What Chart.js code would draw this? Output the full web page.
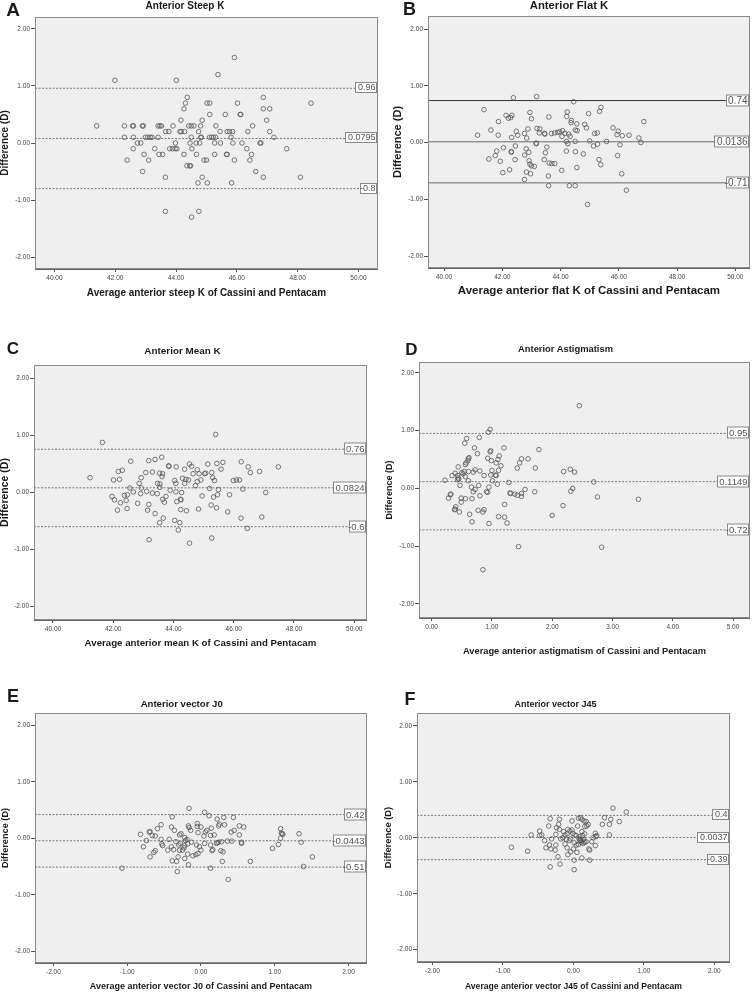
<!DOCTYPE html>
<html>
<head>
<meta charset="utf-8">
<title>Cassini vs Pentacam - Bland-Altman</title>
<script src="https://cdn.jsdelivr.net/npm/chart.js@4.4.1/dist/chart.umd.min.js"></script>
<style>
  html, body { margin: 0; padding: 0; background: #fff; }
  body { position: relative; width: 753px; height: 992px; overflow: hidden; font-family: "Liberation Sans", Arial, sans-serif; }
  canvas { position: absolute; }
  .txt { position: absolute; transform: translate(-50%, -50%); font-weight: bold; white-space: nowrap; line-height: 1; color: #1a1a1a; }
</style>
</head>
<body>
<script>
const FONT = '"Liberation Sans", Arial, sans-serif';
Chart.defaults.font.family = FONT;

// tick labels
const diffTicks = [-2, -1, 0, 1, 2];
const kTicks = [40, 42, 44, 46, 48, 50];
const astigTicks = [0, 1, 2, 3, 4, 5];
const vectorTicks = [-2, -1, 0, 1, 2];

// A - anterior steep K
const steepAvg = [45.92,45.38,41.99,44.01,44.37,46.87,44.31,45.02,45.11,46.02,48.44,44.26,46.87,47.08,45.11,45.62,46.11,46.13,44.16,44.86,46.98,
  41.39,42.30,42.57,42.60,42.89,42.92,43.41,43.47,43.52,43.90,44.42,44.50,44.59,44.81,45.31,46.52,
  43.66,43.76,44.13,44.17,44.28,44.74,45.45,45.68,45.76,45.86,46.36,47.08,
  42.30,42.60,42.99,43.07,43.15,43.21,43.41,44.50,44.81,44.83,45.10,45.17,45.23,45.30,45.81,47.22,
  42.73,42.84,43.98,44.46,44.66,44.78,45.27,45.46,45.87,46.17,46.76,46.79,
  42.59,43.30,43.79,43.88,43.97,44.03,44.52,46.33,47.64,
  42.95,43.44,43.56,44.26,44.67,45.27,45.66,45.68,46.48,
  42.39,43.10,44.92,45.00,45.92,46.43,
  44.36,44.45,44.48,
  42.90,46.62,
  43.65,44.86,46.87,48.09,
  44.72,45.03,45.83,
  43.65,44.75,
  44.51];
const steepDiff = [1.5,1.2,1.1,1.1,0.8,0.8,0.7,0.7,0.7,0.7,0.7,0.6,0.6,0.6,0.5,0.5,0.5,0.5,0.4,0.4,0.4,
  0.3,0.3,0.3,0.3,0.3,0.3,0.3,0.3,0.3,0.3,0.3,0.3,0.3,0.3,0.3,0.3,
  0.2,0.2,0.2,0.2,0.2,0.2,0.2,0.2,0.2,0.2,0.2,0.2,
  0.1,0.1,0.1,0.1,0.1,0.1,0.1,0.1,0.1,0.1,0.1,0.1,0.1,0.1,0.1,0.1,
  0,0,0,0,0,0,0,0,0,0,0,0,
  -0.1,-0.1,-0.1,-0.1,-0.1,-0.1,-0.1,-0.1,-0.1,
  -0.2,-0.2,-0.2,-0.2,-0.2,-0.2,-0.2,-0.2,-0.2,
  -0.3,-0.3,-0.3,-0.3,-0.3,-0.3,
  -0.4,-0.4,-0.4,
  -0.5,-0.5,
  -0.6,-0.6,-0.6,-0.6,
  -0.7,-0.7,-0.7,
  -1.2,-1.2,
  -1.3];
const steepLimits = [0.96, 0.0795, -0.8];
const steepLimitText = ['0.96', '0.0795', '-0.8'];

// B - anterior flat K
const flatAvg = [42.38,43.18,44.45,41.37,45.39,45.34,44.23,42.95,44.96,42.13,
  42.33,42.21,42.29,43.60,44.21,43.00,41.87,44.37,46.86,44.36,
  44.56,44.83,44.89,45.80,43.19,43.29,42.88,41.61,42.48,44.51,
  44.57,45.98,43.69,43.80,43.90,43.97,44.07,44.15,44.28,43.27,
  43.45,43.46,42.76,45.26,45.17,41.15,41.86,42.53,45.94,46.12,
  46.35,44.33,44.05,42.32,42.84,46.69,44.20,44.50,45.00,45.58,
  46.76,43.16,43.17,44.25,45.27,46.04,42.45,45.13,43.53,42.04,
  42.82,44.20,41.81,42.31,42.31,42.91,43.48,44.51,44.78,41.76,
  45.96,42.77,41.54,41.93,42.44,43.44,45.32,42.92,42.95,43.00,
  43.10,43.61,43.70,43.80,45.38,44.56,42.25,44.04,42.83,42.02,
  42.97,46.10,43.58,42.76,43.59,44.30,44.50,46.26,44.93];
const flatDiff = [0.79,0.81,0.72,0.58,0.62,0.55,0.54,0.53,0.51,0.48,
  0.48,0.43,0.44,0.45,0.46,0.42,0.37,0.39,0.37,0.35,
  0.33,0.32,0.26,0.26,0.25,0.24,0.24,0.22,0.20,0.22,
  0.21,0.20,0.16,0.17,0.18,0.19,0.21,0.16,0.15,0.17,
  0.16,0.15,0.16,0.17,0.16,0.13,0.13,0.13,0.14,0.12,
  0.13,0.11,0.11,0.09,0.08,0.08,0.02,0.02,0.03,0.02,
  0.00,-0.01,-0.02,-0.02,-0.03,-0.04,-0.06,-0.06,-0.08,-0.09,
  -0.11,-0.15,-0.15,-0.16,-0.17,-0.17,-0.18,-0.16,-0.20,-0.23,
  -0.23,-0.22,-0.29,-0.33,-0.30,-0.30,-0.30,-0.32,-0.38,-0.41,
  -0.42,-0.36,-0.37,-0.37,-0.39,-0.44,-0.48,-0.49,-0.52,-0.53,
  -0.55,-0.55,-0.59,-0.65,-0.76,-0.76,-0.76,-0.84,-1.09];
const flatLimits = [0.74, 0.0136, -0.71];
const flatLimitText = ['0.74', '0.0136', '-0.71'];

// C - anterior mean K
const meanAvg = [45.40,41.64,41.23,43.61,43.39,43.18,42.58,46.25,45.64,45.14,
  45.44,44.53,44.60,43.84,43.85,47.48,46.48,44.09,44.37,45.58,
  44.79,42.17,42.30,46.86,46.55,43.30,43.08,45.27,43.54,43.64,
  44.65,45.03,45.07,44.85,43.62,42.93,45.30,44.30,44.41,44.04,
  44.91,45.36,42.21,42.01,44.50,45.99,46.09,46.19,44.79,44.08,
  44.37,43.47,43.55,42.86,42.55,42.93,43.55,44.73,45.20,45.49,
  46.30,43.89,42.67,43.11,43.30,44.08,44.27,47.06,42.91,42.47,
  42.37,45.46,41.96,43.46,44.95,45.86,45.33,43.75,42.04,42.43,
  43.64,44.23,44.25,44.11,42.81,43.70,43.18,42.24,45.25,42.46,
  45.43,44.83,42.14,43.14,44.24,44.43,45.80,43.39,43.66,46.24,
  46.93,44.04,43.54,44.21,44.16,46.45,43.19,45.27,44.53];
const meanDiff = [1.02,0.88,0.26,0.62,0.58,0.56,0.55,0.54,0.53,0.50,
  0.51,0.50,0.46,0.47,0.46,0.45,0.45,0.45,0.41,0.41,
  0.40,0.37,0.39,0.37,0.35,0.36,0.35,0.35,0.34,0.33,
  0.33,0.33,0.34,0.33,0.28,0.26,0.26,0.25,0.23,0.21,
  0.22,0.21,0.23,0.22,0.22,0.21,0.22,0.22,0.19,0.16,
  0.16,0.16,0.15,0.16,0.08,0.08,0.09,0.12,0.07,0.05,
  0.06,0.04,0.01,0.02,-0.01,0.01,0.00,0.00,-0.02,-0.04,
  -0.05,-0.04,-0.07,-0.02,-0.06,-0.04,-0.08,-0.07,-0.13,-0.14,
  -0.12,-0.12,-0.13,-0.16,-0.19,-0.17,-0.21,-0.18,-0.22,-0.28,
  -0.27,-0.29,-0.31,-0.31,-0.30,-0.32,-0.34,-0.37,-0.45,-0.45,
  -0.43,-0.49,-0.53,-0.53,-0.66,-0.63,-0.83,-0.80,-0.89];
const meanLimits = [0.76, 0.0824, -0.6];
const meanLimitText = ['0.76', '0.0824', '-0.6'];

// D - anterior astigmatism
const astigAvg = [2.45,0.97,0.94,0.58,0.79,0.55,0.71,1.20,1.78,0.98,
  0.97,0.76,1.12,0.62,0.61,0.60,1.60,1.49,0.57,0.56,
  0.93,1.10,1.07,0.99,1.46,1.42,1.15,0.44,1.72,1.00,
  0.80,0.72,1.11,0.69,2.19,2.30,2.37,0.39,0.52,0.50,
  0.54,0.61,0.34,0.43,0.87,0.98,1.06,1.07,0.44,0.45,
  0.43,0.56,0.22,0.61,1.01,1.28,2.69,1.09,0.47,0.78,
  0.66,0.95,2.34,1.55,0.72,0.69,1.71,0.91,0.93,2.31,
  1.30,1.31,1.38,1.42,1.49,0.31,0.32,0.80,1.49,2.75,
  0.28,0.49,0.67,0.56,3.43,0.49,1.21,2.18,0.40,0.39,
  0.38,0.46,0.77,0.87,0.85,0.63,2.00,1.11,1.21,0.67,
  1.25,0.95,1.44,2.82,0.85];
const astigDiff = [1.43,1.02,0.97,0.86,0.88,0.78,0.70,0.70,0.67,0.65,
  0.63,0.60,0.56,0.53,0.51,0.48,0.51,0.51,0.44,0.41,
  0.52,0.50,0.44,0.48,0.44,0.35,0.39,0.37,0.35,0.31,
  0.30,0.32,0.31,0.28,0.29,0.33,0.28,0.26,0.25,0.27,
  0.29,0.29,0.22,0.22,0.22,0.23,0.23,0.22,0.18,0.16,
  0.15,0.20,0.14,0.13,0.13,0.10,0.11,0.07,0.05,0.05,
  0.02,0.02,0.00,-0.02,-0.02,-0.06,-0.06,-0.06,-0.07,-0.05,
  -0.08,-0.09,-0.10,-0.12,-0.09,-0.11,-0.10,-0.13,-0.14,-0.15,
  -0.17,-0.17,-0.18,-0.18,-0.19,-0.24,-0.28,-0.30,-0.32,-0.36,
  -0.37,-0.41,-0.38,-0.37,-0.41,-0.45,-0.47,-0.49,-0.50,-0.58,
  -0.60,-0.61,-1.01,-1.02,-1.41];
const astigLimits = [0.95, 0.1149, -0.72];
const astigLimitText = ['0.95', '0.1149', '-0.72'];

// E - anterior vector J0
const j0Avg = [-0.16,0.05,0.11,-0.39,0.31,0.44,-0.54,-0.05,0.22,0.32,
  0.25,0.24,0.52,0.58,-0.17,-0.16,0.00,-0.40,-0.59,-0.14,
  -0.36,0.14,-0.05,-0.27,-0.29,0.08,0.06,-0.69,-0.70,0.13,
  0.18,-0.04,0.41,0.45,0.52,1.08,1.09,1.33,1.10,1.11,
  -0.82,-0.66,-0.62,0.04,1.08,-0.22,-0.43,-0.54,-0.74,-0.21,
  -0.19,-0.34,-0.13,0.28,0.24,0.36,0.42,0.55,0.55,1.36,
  0.05,0.21,0.22,-0.18,-0.06,-0.52,-0.53,-0.30,-0.28,1.05,
  -0.22,0.13,-0.02,-0.78,-0.40,-0.37,-0.23,-0.45,0.00,-0.25,
  0.15,0.16,0.97,-0.62,-0.64,0.27,0.30,-0.29,-0.04,-0.07,
  -0.18,-0.22,-0.31,-0.11,-0.69,1.51,-0.39,-0.33,0.29,0.67,
  -0.17,1.39,-1.07,0.13,-0.32,0.37];
const j0Diff = [0.53,0.46,0.40,0.38,0.37,0.37,0.24,0.26,0.34,0.24,
  0.25,0.22,0.22,0.20,0.22,0.19,0.20,0.20,0.17,0.14,
  0.14,0.18,0.21,0.08,0.06,0.14,0.11,0.12,0.11,0.05,
  0.06,0.10,0.11,0.14,0.06,0.17,0.09,0.08,0.08,0.07,
  0.07,0.05,0.04,0.04,0.00,0.01,-0.02,-0.02,-0.04,-0.04,
  -0.02,-0.06,-0.07,-0.06,-0.07,-0.05,-0.05,-0.07,-0.09,-0.07,
  -0.09,-0.09,-0.08,-0.10,-0.12,-0.13,-0.10,-0.12,-0.09,-0.11,
  -0.13,-0.12,-0.15,-0.15,-0.15,-0.20,-0.17,-0.21,-0.21,-0.21,
  -0.22,-0.20,-0.18,-0.22,-0.25,-0.22,-0.24,-0.21,-0.27,-0.29,
  -0.28,-0.36,-0.33,-0.31,-0.33,-0.33,-0.40,-0.41,-0.41,-0.41,
  -0.47,-0.50,-0.53,-0.53,-0.59,-0.73];
const j0Limits = [0.42, -0.0443, -0.51];
const j0LimitText = ['0.42', '-0.0443', '-0.51'];

// F - anterior vector J45
const j45Avg = [0.56,0.75,0.44,0.07,0.10,-0.20,-0.33,0.53,0.12,-0.02,
  0.15,0.18,0.65,0.41,0.51,-0.21,0.21,-0.35,0.06,0.16,
  0.19,-0.24,-0.48,-0.20,-0.08,-0.05,-0.02,-0.14,0.12,0.31,
  -0.45,-0.48,0.51,-0.60,-0.25,0.02,0.04,-0.12,-0.09,0.33,
  0.32,0.13,0.16,0.28,-0.31,-0.18,-0.04,-0.15,-0.06,0.09,
  0.10,0.12,-0.41,0.26,0.01,0.16,0.18,-0.34,-0.25,-0.12,
  0.07,0.31,-0.39,-0.88,-0.32,-0.09,0.22,0.23,0.00,-0.26,
  -0.65,-0.04,0.05,-0.08,-0.22,0.12,0.01,0.23,-0.19,-0.33,
  0.01,0.08,0.11,0.14,-0.01,0.04,0.09,0.14,-0.10];
const j45Diff = [0.53,0.46,0.36,0.35,0.36,0.33,0.34,0.33,0.33,0.30,
  0.30,0.29,0.29,0.24,0.24,0.24,0.24,0.21,0.21,0.20,
  0.21,0.18,0.12,0.15,0.15,0.12,0.14,0.11,0.11,0.08,
  0.05,0.04,0.05,0.05,0.06,0.05,0.04,0.05,0.07,0.04,
  0.02,0.04,0.07,0.00,-0.02,-0.02,-0.02,0.00,-0.05,-0.04,
  -0.05,-0.05,-0.05,-0.07,-0.09,-0.08,-0.07,-0.13,-0.13,-0.11,
  -0.12,-0.14,-0.18,-0.17,-0.20,-0.18,-0.20,-0.22,-0.20,-0.22,
  -0.24,-0.25,-0.26,-0.30,-0.34,-0.36,-0.40,-0.40,-0.47,-0.52,
  -0.57,-0.02,-0.08,-0.03,0.08,-0.13,0.02,-0.10,-0.03];
const j45Limits = [0.4, 0.0037, -0.39];
const j45LimitText = ['0.4', '0.0037', '-0.39'];

const yTitle = 'Difference (D)';

// panel layout (page pixels)
const panels = [
  { letter: 'A', letterPos: [13, 8.5, 19], title: 'Anterior Steep K', titlePos: [185, 5.5, 10],
    xTitle: 'Average anterior steep K of Cassini and Pentacam', xTitleSize: 10, yTitleSize: 10,
    xs: steepAvg, ys: steepDiff, xTicks: kTicks, limits: steepLimits, limitText: steepLimitText,
    solid: false, limitFont: 9, xRange: [39.36, 50.64], yRange: [-2.21, 2.21],
    canvas: { left: -1, top: 7, right: 381, bottom: 299 }, plot: { left: 35, top: 17, right: 379, bottom: 269 } },
  { letter: 'B', letterPos: [409.5, 9, 18], title: 'Anterior Flat K', titlePos: [569, 6, 11.3],
    xTitle: 'Average anterior flat K of Cassini and Pentacam', xTitleSize: 11.5, yTitleSize: 11,
    xs: flatAvg, ys: flatDiff, xTicks: kTicks, limits: flatLimits, limitText: flatLimitText,
    solid: true, limitFont: 10, xRange: [39.45, 50.5], yRange: [-2.21, 2.23],
    canvas: { left: 391, top: 6, right: 753, bottom: 298 }, plot: { left: 428, top: 16, right: 751, bottom: 268 } },
  { letter: 'C', letterPos: [13, 347.5, 17], title: 'Anterior Mean K', titlePos: [182.5, 351, 9.9],
    xTitle: 'Average anterior mean K of Cassini and Pentacam', xTitleSize: 9.7, yTitleSize: 10.5,
    xs: meanAvg, ys: meanDiff, xTicks: kTicks, limits: meanLimits, limitText: meanLimitText,
    solid: false, limitFont: 9.5, xRange: [39.37, 50.42], yRange: [-2.24, 2.24],
    canvas: { left: -1, top: 355, right: 370, bottom: 649 }, plot: { left: 34, top: 365, right: 368, bottom: 620 } },
  { letter: 'D', letterPos: [411.5, 348.5, 17], title: 'Anterior Astigmatism', titlePos: [565.5, 349, 9.4],
    xTitle: 'Average anterior astigmatism of Cassini and Pentacam', xTitleSize: 9.3, yTitleSize: 9,
    xs: astigAvg, ys: astigDiff, xTicks: astigTicks, limits: astigLimits, limitText: astigLimitText,
    solid: false, limitFont: 9.5, xRange: [-0.21, 5.28], yRange: [-2.245, 2.186],
    canvas: { left: 384, top: 352, right: 753, bottom: 657 }, plot: { left: 419, top: 362, right: 751, bottom: 618 } },
  { letter: 'E', letterPos: [13, 696, 18], title: 'Anterior vector J0', titlePos: [181.7, 703.5, 9.6],
    xTitle: 'Average anterior vector J0 of Cassini and Pentacam', xTitleSize: 9, yTitleSize: 9.2,
    xs: j0Avg, ys: j0Diff, xTicks: vectorTicks, limits: j0Limits, limitText: j0LimitText,
    solid: false, limitFont: 9.5, xRange: [-2.25, 2.25], yRange: [-2.21, 2.22],
    canvas: { left: 0, top: 703, right: 370, bottom: 992 }, plot: { left: 35, top: 713, right: 368, bottom: 963 } },
  { letter: 'F', letterPos: [410, 699, 18], title: 'Anterior vector J45', titlePos: [555.5, 703.5, 9],
    xTitle: 'Average anterior vector J45 of Cassini and Pentacam', xTitleSize: 8.6, yTitleSize: 9.4,
    xs: j45Avg, ys: j45Diff, xTicks: vectorTicks, limits: j45Limits, limitText: j45LimitText,
    solid: false, limitFont: 9, xRange: [-2.22, 2.22], yRange: [-2.22, 2.23],
    canvas: { left: 383, top: 703, right: 733, bottom: 992 }, plot: { left: 417, top: 713, right: 731, bottom: 962 } }
];

function addText(txt, pos) {
  const d = document.createElement('div');
  d.className = 'txt';
  d.textContent = txt;
  d.style.left = pos[0] + 'px';
  d.style.top = pos[1] + 'px';
  d.style.fontSize = pos[2] + 'px';
  document.body.appendChild(d);
}

function drawPanel(p) {
  const c = p.canvas, a = p.plot;
  const w = c.right - c.left, h = c.bottom - c.top;
  const el = document.createElement('canvas');
  el.width = w;
  el.height = h;
  el.style.left = c.left + 'px';
  el.style.top = c.top + 'px';
  el.style.width = w + 'px';
  el.style.height = h + 'px';
  document.body.appendChild(el);

  const points = p.xs.map((x, i) => ({ x, y: p.ys[i] }));
  const lineSets = p.limits.map((v, i) => ({
    data: [{ x: p.xRange[0], y: v }, { x: p.xRange[1], y: v }],
    showLine: true,
    pointRadius: 0,
    borderWidth: 1,
    borderColor: p.solid ? (i === 0 ? '#333' : '#6a6a6a') : '#777',
    borderDash: p.solid ? [] : [2, 1.5]
  }));

  // plot background, frame and the boxed limit labels
  const frame = {
    id: 'frame',
    beforeDraw(chart) {
      const { ctx, chartArea: ca } = chart;
      ctx.save();
      ctx.fillStyle = '#efefef';
      ctx.fillRect(ca.left, ca.top, ca.right - ca.left, ca.bottom - ca.top);
      ctx.restore();
    },
    afterDatasetsDraw(chart) {
      const { ctx, chartArea: ca } = chart;
      const yScale = chart.scales.y;
      ctx.save();
      ctx.font = p.limitFont + 'px ' + FONT;
      ctx.textAlign = 'right';
      ctx.textBaseline = 'middle';
      p.limits.forEach((v, i) => {
        const txt = p.limitText[i];
        const y = Math.round(yScale.getPixelForValue(v));
        const right = Math.round(ca.right) - 1.5;
        const bw = Math.round(ctx.measureText(txt.replace('-', '')).width) + 3;
        const bh = Math.round(p.limitFont) + 1;
        ctx.fillStyle = '#fff';
        ctx.fillRect(right - bw, y - bh / 2 - 0.5, bw, bh);
        ctx.strokeStyle = '#888';
        ctx.lineWidth = 1;
        ctx.strokeRect(right - bw, y - bh / 2 - 0.5, bw, bh);
        ctx.fillStyle = '#555';
        ctx.fillText(txt, right - 1, y);
      });
      ctx.restore();
    },
    afterDraw(chart) {
      const { ctx, chartArea: ca } = chart;
      ctx.save();
      ctx.strokeStyle = '#8a8a8a';
      ctx.lineWidth = 1;
      ctx.strokeRect(Math.round(ca.left) + 0.5, Math.round(ca.top) + 0.5,
        Math.round(ca.right - ca.left) - 1, Math.round(ca.bottom - ca.top) - 1);
      ctx.restore();
    }
  };

  new Chart(el, {
    type: 'scatter',
    data: {
      datasets: [
        {
          data: points,
          pointRadius: 2.3,
          pointHoverRadius: 2.3,
          borderWidth: 0.8,
          borderColor: '#555',
          backgroundColor: 'rgba(0,0,0,0)'
        },
        ...lineSets
      ]
    },
    options: {
      responsive: false,
      animation: false,
      events: [],
      layout: { padding: { left: 0, top: a.top - c.top, right: c.right - a.right, bottom: 0 } },
      plugins: { legend: { display: false }, tooltip: { enabled: false } },
      scales: {
        x: {
          type: 'linear',
          min: p.xRange[0],
          max: p.xRange[1],
          afterBuildTicks: s => { s.ticks = p.xTicks.map(v => ({ value: v })); },
          afterFit: s => { s.height = c.bottom - a.bottom; },
          ticks: { callback: v => v.toFixed(2), font: { size: 6.5 }, color: '#444', padding: 2, maxRotation: 0, autoSkip: false },
          grid: { drawOnChartArea: false, tickLength: 3, color: '#555' },
          border: { color: '#666' },
          title: { display: true, text: p.xTitle, font: { size: p.xTitleSize, weight: 'bold' }, color: '#1a1a1a', padding: 0 }
        },
        y: {
          type: 'linear',
          min: p.yRange[0],
          max: p.yRange[1],
          afterBuildTicks: s => { s.ticks = diffTicks.map(v => ({ value: v })); },
          afterFit: s => { s.width = a.left - c.left; },
          ticks: { callback: v => v.toFixed(2), font: { size: 6.5 }, color: '#444', padding: 1, autoSkip: false },
          grid: { drawOnChartArea: false, tickLength: 4, color: '#555' },
          border: { color: '#666' },
          title: { display: true, text: yTitle, font: { size: p.yTitleSize, weight: 'bold' }, color: '#1a1a1a', padding: 0 }
        }
      }
    },
    plugins: [frame]
  });

  addText(p.letter, p.letterPos);
  addText(p.title, p.titlePos);
}

panels.forEach(drawPanel);
</script>
</body>
</html>
